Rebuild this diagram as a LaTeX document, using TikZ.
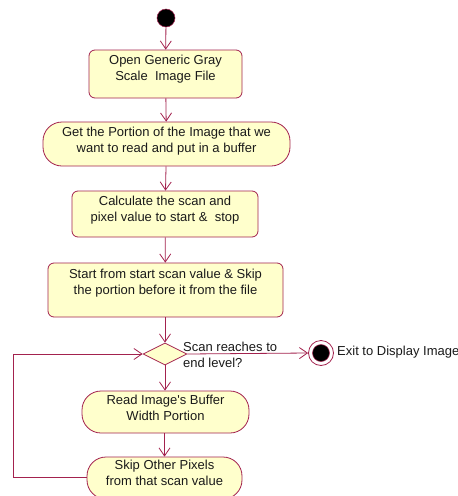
\documentclass[tikz,border=0pt]{standalone}
\usepackage{fontspec}
\setmainfont{Liberation Sans}
\usetikzlibrary{arrows.meta,shapes.geometric}
\definecolor{edge}{HTML}{A3224E}
\definecolor{boxfill}{HTML}{FFFFCC}
\definecolor{ink}{HTML}{1A1A1A}
\begin{document}
\begin{tikzpicture}[x=1pt,y=-1pt,
  actbox/.style={draw=edge,fill=boxfill,line width=0.8pt,rounded corners=6pt,inner sep=0pt},
  stadium/.style={draw=edge,fill=boxfill,line width=0.8pt,rounded corners=19pt,inner sep=0pt},
  txt/.style={font=\fontsize{13}{15.5}\selectfont,text=ink,align=center,anchor=north,inner sep=0pt},
  flow/.style={draw=edge,line width=0.8pt,-{Straight Barb[length=8pt,width=11pt,line width=0.8pt]}},
  decision/.style={diamond,draw=edge,fill=boxfill,line width=0.8pt,minimum width=44pt,minimum height=22pt,inner sep=0pt}
]
\useasboundingbox (0,0) rectangle (458,496);
\fill[white] (0,0) rectangle (458,496);

\node[circle,fill=black,draw=edge,line width=0.5pt,minimum size=18pt,inner sep=0pt] (start) at (166,18) {};

\node[actbox,minimum width=153pt,minimum height=48pt] (b1) at (165.5,74) {};
\node[txt] (t1) at (165.5,55) {Open Generic Gray\\Scale\ \ Image File};

\node[stadium,minimum width=247pt,minimum height=44pt] (b2) at (166.5,144) {};
\node[txt] (t2) at (166.5,127) {Get the Portion of the Image that we\\want to read and put in a buffer};

\node[actbox,minimum width=186pt,minimum height=46pt] (b3) at (165,214) {};
\node[txt] (t3) at (165,196) {Calculate the scan and\\pixel value to start \& \ stop};

\node[actbox,minimum width=235pt,minimum height=54pt] (b4) at (165.5,290) {};
\node[txt] (t4) at (165.5,269) {Start from start scan value \& Skip\\the portion before it from the file};

\node[decision] (d) at (165,354) {};
\node[txt,align=left,anchor=north west] (tq) at (183,342) {Scan reaches to\\end level?};

\node[circle,draw=edge,fill=white,line width=0.8pt,minimum size=25pt,inner sep=0pt] (end) at (321,353) {};
\node[circle,fill=black,draw=edge,line width=0.5pt,minimum size=17pt,inner sep=0pt] (endin) at (321,353) {};
\node[txt,anchor=base west] (te) at (337,355) {Exit to Display Image};

\node[stadium,minimum width=167pt,minimum height=42pt] (b5) at (165.5,412) {};
\node[txt] (t5) at (165.5,395) {Read Image\textquotesingle s Buffer\\Width Portion};

\node[stadium,minimum width=155pt,minimum height=42pt] (b6) at (164.5,478) {};
\node[txt] (t6) at (164.5,460) {Skip Other Pixels\\from that scan value};

\coordinate (lb) at (13,477);
\coordinate (lt) at (13,354);

\draw[flow] (start) -- (b1);
\draw[flow] (b1) -- (b2);
\draw[flow] (b2) -- (b3);
\draw[flow] (b3) -- (b4);
\draw[flow] (b4.south -| d) -- (d.north);
\draw[flow] (d.south) -- (b5.north -| d);
\draw[flow] (b5.south -| b6) -- (b6.north);
\draw[flow] (d.east) -- (end.west);
\draw[flow] (b6.west |- lb) -- (lb) -- (lt) -- (d.west);
\end{tikzpicture}
\end{document}
